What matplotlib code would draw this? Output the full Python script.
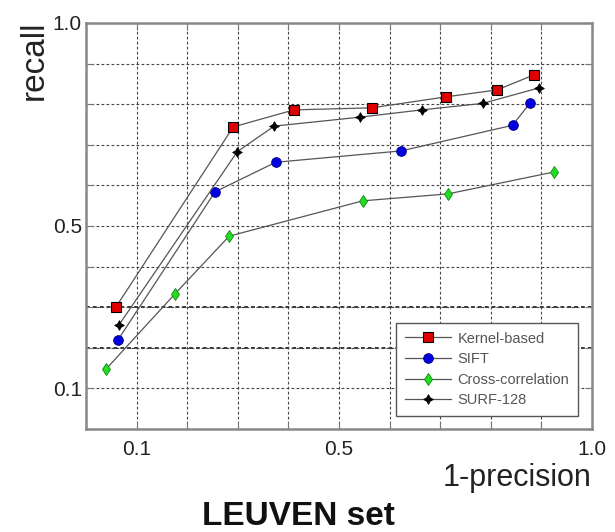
import matplotlib
matplotlib.use("Agg")
import matplotlib.pyplot as plt

plt.rcParams['font.family'] = ['Liberation Sans', 'DejaVu Sans']

# (1-precision, recall)
kernel_x = [0.059, 0.291, 0.411, 0.565, 0.711, 0.812, 0.885]
kernel_y = [0.300, 0.744, 0.786, 0.791, 0.818, 0.835, 0.872]

sift_x = [0.063, 0.255, 0.375, 0.623, 0.843, 0.877]
sift_y = [0.219, 0.584, 0.657, 0.685, 0.748, 0.802]

xcorr_x = [0.040, 0.176, 0.283, 0.547, 0.715, 0.925]
xcorr_y = [0.148, 0.333, 0.475, 0.562, 0.579, 0.633]

surf_x = [0.065, 0.299, 0.372, 0.541, 0.664, 0.784, 0.895]
surf_y = [0.256, 0.683, 0.746, 0.768, 0.786, 0.802, 0.840]

tick_vals = [i / 10 for i in range(11)]
x_labels = {0.1: "0.1", 0.5: "0.5", 1.0: "1.0"}
y_labels = {0.1: "0.1", 0.5: "0.5", 1.0: "1.0"}

fig = plt.figure(figsize=(6.15, 5.32), dpi=100)
ax = fig.add_axes([0.1398, 0.1936, 0.8228, 0.7632])

line_kw = dict(color="#555555", linewidth=0.9)
ax.plot(kernel_x, kernel_y, marker="s", markersize=6.5, markerfacecolor="#e00000",
        markeredgecolor="black", markeredgewidth=0.8, label="Kernel-based", **line_kw)
ax.plot(sift_x, sift_y, marker="o", markersize=7, markerfacecolor="#0000e0",
        markeredgecolor="#000080", markeredgewidth=0.6, label="SIFT", **line_kw)
ax.plot(xcorr_x, xcorr_y, marker="d", markersize=6.5, markerfacecolor="#22dd22",
        markeredgecolor="#118811", markeredgewidth=0.6, label="Cross-correlation", **line_kw)
ax.plot(surf_x, surf_y, marker=(4, 1, 0), markersize=7, markerfacecolor="black",
        markeredgecolor="black", markeredgewidth=0.6, label="SURF-128", **line_kw)

ax.set_xlim(0, 1.0)
ax.set_ylim(0, 1.0)
ax.set_xticks(tick_vals)
ax.set_yticks(tick_vals)
ax.set_xticklabels([x_labels.get(round(v, 1), "") for v in tick_vals], fontsize=15)
ax.set_yticklabels([y_labels.get(round(v, 1), "") for v in tick_vals], fontsize=15)
ax.tick_params(direction="in", length=5, color="#777777", top=True, right=True,
               labelcolor="#222222")
ax.tick_params(axis="y", pad=3)
ax.tick_params(axis="x", pad=8)

ax.grid(True, color="#444444", linestyle=(0, (2.5, 2)), linewidth=0.8)
# two rows that look heavier in the reference
for yy in [0.2, 0.3]:
    ax.axhline(yy, color="black", linestyle=(0, (2.5, 2)), linewidth=1.1, zorder=1)

for sp in ax.spines.values():
    sp.set_color("#888888")
    sp.set_linewidth(1.8)

fig.text(0.055, 0.962, "recall", rotation=90, fontsize=24, ha="center", va="top",
         color="#222222")
fig.text(0.962, 0.101, "1-precision", fontsize=22, ha="right", va="center",
         color="#222222")
fig.text(0.485, 0.014, "LEUVEN set", fontsize=24, fontweight="bold", ha="center",
         va="baseline", color="#111111")

leg = ax.legend(loc="lower right", bbox_to_anchor=(0.972, 0.032), borderaxespad=0,
                fontsize=10.5, handlelength=3.2, labelspacing=0.45, borderpad=0.6,
                handletextpad=0.4, fancybox=False, framealpha=1,
                edgecolor="#555555", labelcolor="#555555")
leg.get_frame().set_linewidth(1.0)

fig.savefig("out.png", dpi=100)
